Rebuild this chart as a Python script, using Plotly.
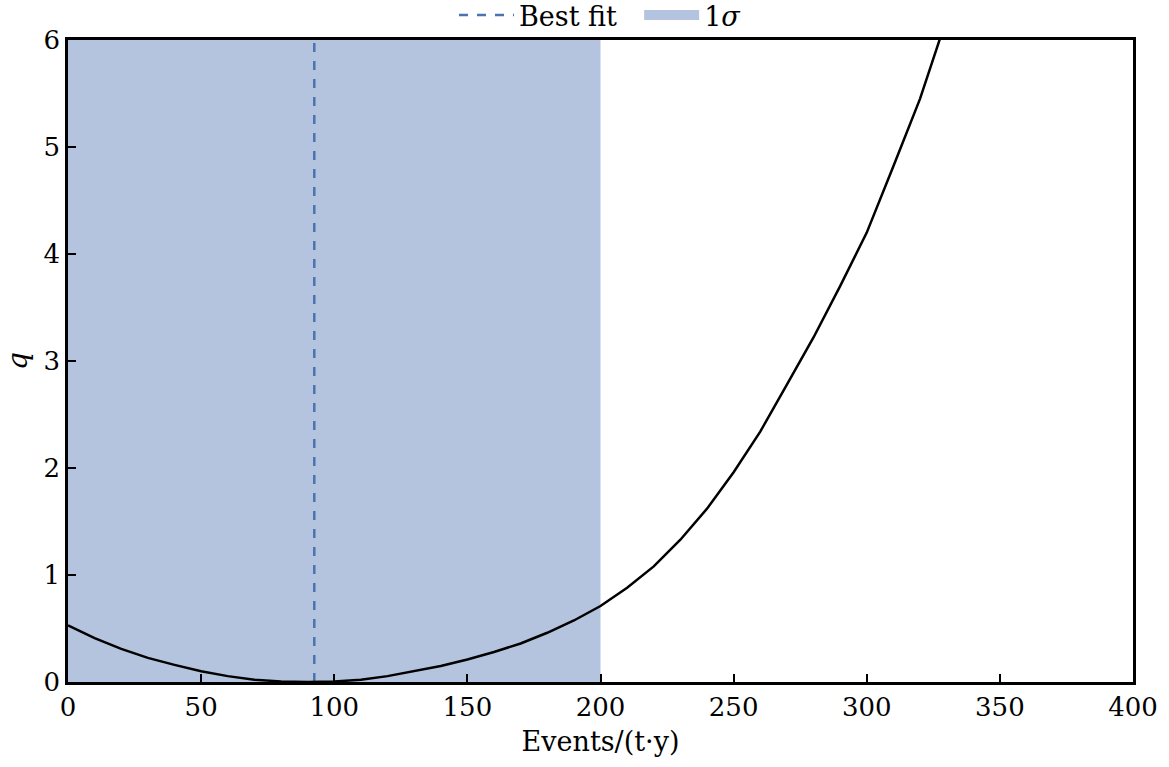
import plotly.graph_objects as go

# Test statistic q versus event rate
rate = [0, 10, 20, 30, 40, 50, 60, 70, 80, 90, 100, 110, 120, 130, 140, 150, 160,
        170, 180, 190, 200, 210, 220, 230, 240, 250, 260, 270, 280, 290, 300, 310,
        320, 330]
q = [0.53, 0.41, 0.31, 0.225, 0.16, 0.10, 0.055, 0.022, 0.005, 0.0, 0.004, 0.022,
     0.055, 0.10, 0.15, 0.21, 0.28, 0.36, 0.46, 0.575, 0.71, 0.88, 1.08, 1.33,
     1.62, 1.96, 2.34, 2.78, 3.22, 3.70, 4.20, 4.82, 5.45, 6.20]

best_fit = 92.5
sigma_band = [0, 200]

x_range = [0, 400]
y_range = [0, 6]

FONT = "DejaVu Serif"
BLUE = "#4c72b0"
BAND = "rgba(76,114,176,0.42)"
FS = 26

fig = go.Figure()

# 1 sigma interval
fig.add_trace(go.Scatter(
    x=[sigma_band[0], sigma_band[1], sigma_band[1], sigma_band[0], sigma_band[0]],
    y=[y_range[0], y_range[0], y_range[1], y_range[1], y_range[0]],
    fill="toself", fillcolor=BAND, line=dict(width=0), mode="lines",
    showlegend=False, hoverinfo="skip", legendgroup="sigma",
))
# legend patch for the interval
fig.add_trace(go.Scatter(
    x=[None], y=[None], mode="lines", line=dict(color="#b3c3e0", width=18),
    name="1<i>σ</i>", legendgroup="sigma",
))

# best-fit marker
fig.add_trace(go.Scatter(
    x=[best_fit, best_fit], y=y_range, mode="lines",
    line=dict(color=BLUE, width=2.5, dash="dash"), name="Best fit&nbsp;&nbsp;",
))

# q curve
fig.add_trace(go.Scatter(
    x=rate, y=q, mode="lines", line=dict(color="black", width=2.5),
    showlegend=False,
))

axis_common = dict(
    showgrid=False, zeroline=False, showline=True, linecolor="black", linewidth=2.5,
    mirror=True, ticks="inside", ticklen=8, tickwidth=2, tickcolor="black",
    tickfont=dict(family=FONT, size=FS, color="black"),
)

fig.update_layout(
    width=1169, height=767,
    margin=dict(l=68, r=36, t=40, b=85, autoexpand=False),
    plot_bgcolor="white", paper_bgcolor="white",
    font=dict(family=FONT, size=FS, color="black"),
    xaxis=dict(range=x_range, dtick=50,
               title=dict(text="Events/(t·y)", font=dict(family=FONT, size=27), standoff=12),
               **axis_common),
    yaxis=dict(range=y_range, dtick=1,
               title=dict(text="<i>q</i>", font=dict(family=FONT, size=28), standoff=8),
               **axis_common),
    legend=dict(orientation="h", x=0.5, xanchor="center", y=1.0, yanchor="bottom",
                traceorder="reversed", font=dict(family=FONT, size=27),
                itemwidth=55, bgcolor="rgba(0,0,0,0)"),
)

fig.write_html("out.html")
